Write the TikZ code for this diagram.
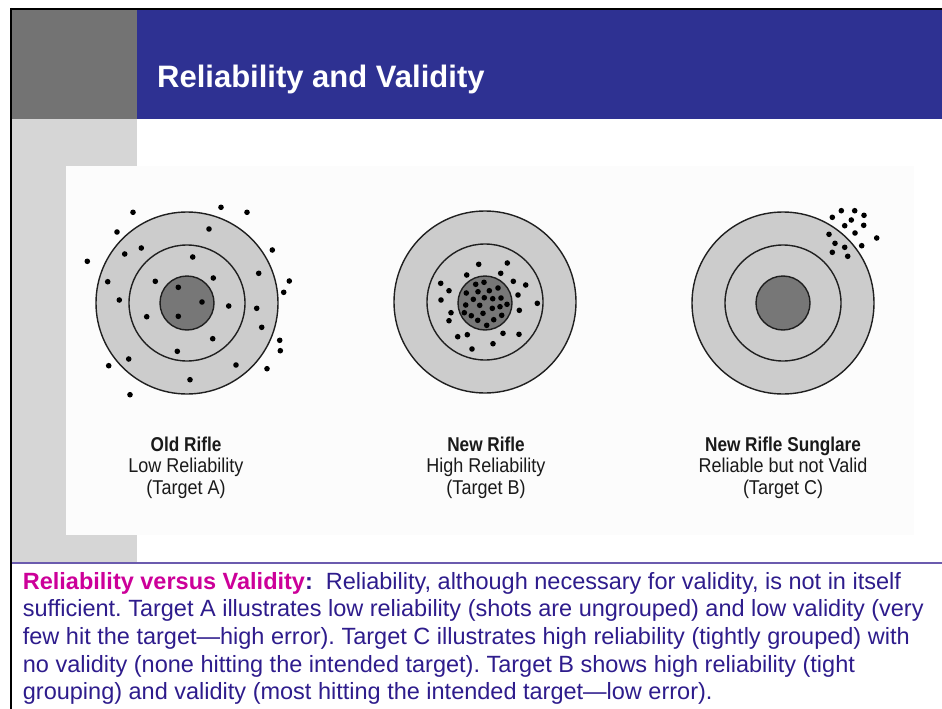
\documentclass[tikz,border=0pt]{standalone}
\usepackage{fontspec}
\setmainfont{Liberation Sans}
\newfontfamily\labreg[FakeStretch=0.9]{Liberation Sans}
\newfontfamily\labbold[FakeStretch=0.86]{Liberation Sans}
\definecolor{hdrblue}{HTML}{2E3192}
\definecolor{hdrgray}{HTML}{737373}
\definecolor{sidegray}{HTML}{D6D6D6}
\definecolor{panelbg}{HTML}{FCFCFC}
\definecolor{bodyblue}{HTML}{2E1C8C}
\definecolor{magentatxt}{HTML}{CC0099}
\definecolor{rulepurple}{HTML}{6B5BAE}
\definecolor{ringlight}{HTML}{CCCCCC}
\definecolor{ringdark}{HTML}{777777}
\definecolor{ringline}{HTML}{1F1F1F}
\definecolor{labtxt}{HTML}{1A1A1A}
\tikzset{
  ring/.style={circle, draw=ringline, line width=1.4pt, inner sep=0pt},
  outerring/.style={ring, fill=ringlight, minimum size=182pt},
  midring/.style={ring, fill=ringlight, minimum size=116pt},
  bull/.style={ring, fill=ringdark, minimum size=54pt},
  shot/.style={fill=black},
  bodyline/.style={anchor=base west, inner sep=0pt, text=bodyblue, font=\fontsize{23.5}{27.5}\selectfont\frenchspacing},
  labline/.style={anchor=base, inner sep=0pt, text=labtxt, font=\labreg\fontsize{20}{21}\selectfont},
  labhead/.style={anchor=base, inner sep=0pt, text=labtxt, font=\labbold\bfseries\fontsize{20}{21}\selectfont},
}
\begin{document}
\begin{tikzpicture}[x=1pt,y=-1pt]
\useasboundingbox (0,0) rectangle (942,709);
% header and side blocks
\fill[hdrgray] (11,10) rectangle (137,119);
\fill[hdrblue] (137,10) rectangle (942,119);
\fill[sidegray] (11,119) rectangle (137,166);
\fill[sidegray] (11,166) rectangle (66,535);
\fill[sidegray] (11,535) rectangle (137,562);
\fill[panelbg] (66,166) rectangle (914,535);
\draw[rulepurple, line width=2pt] (11,563) -- (942,563);
\draw[black, line width=2pt] (10,9) -- (942,9);
\draw[black, line width=2pt] (11,8) -- (11,709);
\node[anchor=base west, inner sep=0pt, text=white, font=\bfseries\fontsize{31}{36}\selectfont] (title) at (157,88) {Reliability and Validity};

% Target A
\node[outerring] (A1) at (187,303) {};
\node[midring] (A2) at (187,303) {};
\node[bull] (A3) at (187,303) {};
\foreach \p in {(221,207.3),(247,212.3),(133,212.3),(117,232),(209,229),(272.3,250),(141.3,248),(124.7,254),(87.3,261.3),(192.7,257),(258.7,273.3),(289.3,281),(283.7,292.3),(107.7,281.7),(155.3,281.3),(213.3,278),(178.3,287.3),(202,302),(119.3,300),(228.7,306),(256.7,308.3),(178.3,316.3),(146.7,316.7),(261.7,327.3),(212.7,338.7),(279.7,340.3),(280.3,350.7),(177.3,351.3),(128.7,359),(236,365),(108.7,365.7),(267,368.7),(190,379.7),(130,394.7)}
  \fill[shot] \p circle (2.8pt);

% Target B
\node[outerring] (B1) at (485,302) {};
\node[midring] (B2) at (485,302) {};
\node[bull] (B3) at (485,303) {};
\foreach \p in {(478.7,264.3),(507.3,263),(466.7,275),(500.7,273.3),(440.7,283.3),(513.3,281.3),(525.7,285),(449,290.7),(518,295),(441,300),(537.3,303.3),(519.3,310.3),(451,312.7),(449,320.7),(457.7,336.7),(467.3,334.7),(503,333.3),(519,334.3),(493,343.7),(472,349),
(475.7,284.3),(484,282.3),(498,288),(466.3,293),(478,291.7),(489.3,290.7),(473.3,299.3),(484.3,297.7),(492.7,298.7),(501,298),(465.7,305),(479.7,305.3),(492.3,308.3),(500,306.7),(507,304.3),(464.3,312.7),(471.3,315.7),(483,313.3),(501.7,315.3),(477.7,320.3),(493.7,319.7),(486.7,325.3)}
  \fill[shot] \p circle (2.8pt);

% Target C
\node[outerring] (C1) at (783,303) {};
\node[midring] (C2) at (783,303) {};
\node[bull] (C3) at (783,303) {};
\foreach \p in {(841.3,210.7),(854.7,210.7),(832.3,217.3),(851.3,220),(864,215.3),(844.7,225.7),(863.7,225.3),(829,234.3),(855,233),(876.7,238),(835,243.3),(844.7,247.3),(861.7,245.7),(832.3,252.3),(847.7,256.3)}
  \fill[shot] \p circle (2.8pt);

% Labels
\node[labhead] (la1) at (186,451) {Old Rifle};
\node[labline] (la2) at (186,472.5) {Low Reliability};
\node[labline] (la3) at (186,494) {(Target A)};
\node[labhead] (lb1) at (486,451) {New Rifle};
\node[labline] (lb2) at (486,472.5) {High Reliability};
\node[labline] (lb3) at (486,494) {(Target B)};
\node[labhead] (lc1) at (783,451) {New Rifle Sunglare};
\node[labline] (lc2) at (783,472.5) {Reliable but not Valid};
\node[labline] (lc3) at (783,494) {(Target C)};

% Body text
\node[bodyline] (t1) at (22.7,589) {\textbf{\textcolor{magentatxt}{Reliability versus Validity}:}\hspace{13pt}Reliability, although necessary for validity, is not in itself};
\node[bodyline] (t2) at (22.7,616.8) {sufficient. Target A illustrates low reliability (shots are ungrouped) and low validity (very};
\node[bodyline] (t3) at (22.7,644.5) {few hit the target—high error). Target C illustrates high reliability (tightly grouped) with};
\node[bodyline] (t4) at (22.7,672) {no validity (none hitting the intended target). Target B shows high reliability (tight};
\node[bodyline] (t5) at (22.7,699.5) {grouping) and validity (most hitting the intended target—low error).};
\end{tikzpicture}
\end{document}
